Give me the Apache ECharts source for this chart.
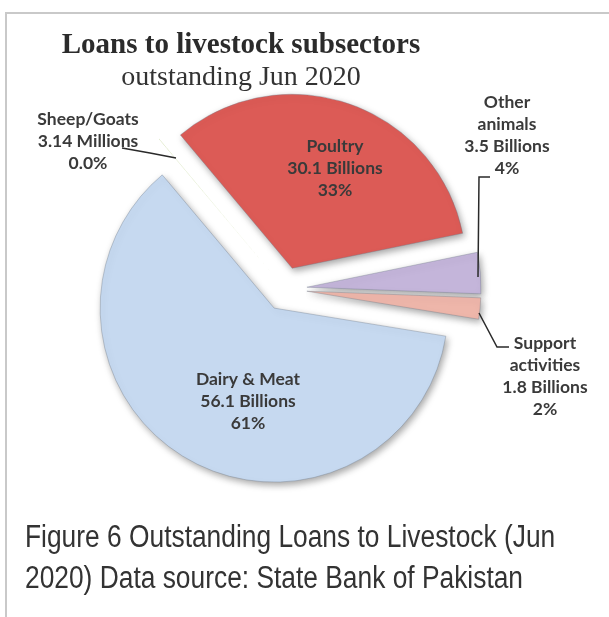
<!DOCTYPE html>
<html>
<head>
<meta charset="utf-8">
<title>Loans to livestock subsectors</title>
<script src="https://cdn.jsdelivr.net/npm/echarts@6/dist/echarts.min.js"></script>
<style>
  html, body { margin: 0; padding: 0; background: #fff; }
  #main { width: 609px; height: 617px; }
</style>
</head>
<body>
<div id="main"></div>
<script>
// loans outstanding, Jun 2020, in billions (pie runs clockwise from the upper left)
var categories = ['Poultry', 'Other animals', 'Support activities', 'Dairy & Meat', 'Sheep/Goats'];
var loans = [30.1, 3.5, 1.8, 56.1, 0.00314];

var colors = ['#dc5b56', '#c4b5da', '#eeb6aa', '#c6d9f0', '#9bbb59'];
// where each label sits (centre of the text block) and its leader line
var labelPos = [[335, 168], [507, 135], [545, 376], [248, 401], [88, 141]];
var leaderLines = [
  null,
  [[478, 277], [479, 177], [490, 177]],
  [[479, 313], [497, 347], [509, 347]],
  null,
  [[176, 158], [150, 153], [122, 148]]
];

var pieCenter = [285, 289];
var pieRadius = 174;
var pieStart = 130;

var chart = echarts.init(document.getElementById('main'));

function labelText(p) {
  var name = p.name;
  if (p.dataIndex === 1 || p.dataIndex === 2) {
    name = name.replace(' ', '\n');
  }
  var amount = p.value >= 1 ? p.value + ' Billions' : (p.value * 1000).toFixed(2) + ' Millions';
  var pct = p.percent < 1 ? p.percent.toFixed(1) : Math.round(p.percent);
  return name + '\n' + amount + '\n' + pct + '%';
}

var option = {
  backgroundColor: '#fff',
  animation: false,
  title: {
    text: 'Loans to livestock subsectors',
    subtext: 'outstanding Jun 2020',
    left: 236,
    top: 26,
    textAlign: 'center',
    itemGap: 4,
    textStyle: {
      fontFamily: 'Liberation Serif',
      fontWeight: 'bold',
      fontSize: 29,
      color: '#2b2b2b'
    },
    subtextStyle: {
      fontFamily: 'Liberation Serif',
      fontSize: 28,
      color: '#333'
    }
  },
  series: [
    // exploded slices
    {
      type: 'pie',
      center: pieCenter,
      radius: pieRadius,
      startAngle: pieStart,
      selectedMode: 'multiple',
      selectedOffset: 22,
      silent: true,
      data: categories.map(function (c, i) {
        var item = { name: c, value: loans[i], selected: true, itemStyle: { color: colors[i] } };
        if (loans[i] < 0.01) {
          item.itemStyle.borderWidth = 0;
          item.itemStyle.shadowBlur = 0;
          item.itemStyle.shadowOffsetX = 0;
          item.itemStyle.shadowOffsetY = 0;
        }
        return item;
      }),
      itemStyle: {
        borderColor: 'rgba(110,120,135,0.35)',
        borderWidth: 1,
        shadowBlur: 7,
        shadowOffsetX: 2,
        shadowOffsetY: 3,
        shadowColor: 'rgba(0,0,0,0.35)'
      },
      label: { show: false },
      labelLine: { show: false }
    },
    // same pie, unselected and invisible, only carries the labels
    {
      type: 'pie',
      z: 5,
      center: pieCenter,
      radius: pieRadius,
      startAngle: pieStart,
      silent: true,
      avoidLabelOverlap: false,
      minShowLabelAngle: 0,
      data: categories.map(function (c, i) {
        return {
          name: c,
          value: loans[i],
          labelLine: { show: leaderLines[i] !== null }
        };
      }),
      itemStyle: { color: 'rgba(0,0,0,0)' },
      label: {
        show: true,
        position: 'outside',
        formatter: labelText,
        fontFamily: 'Lato',
        fontWeight: 'bold',
        fontSize: 17.5,
        lineHeight: 22,
        color: '#3a3a3a',
        align: 'center'
      },
      labelLine: {
        lineStyle: { color: '#2a2a2a', width: 1.5 }
      },
      labelLayout: function (p) {
        var pos = labelPos[p.dataIndex];
        var res = { x: pos[0], y: pos[1], align: 'center', verticalAlign: 'middle' };
        if (leaderLines[p.dataIndex]) {
          res.labelLinePoints = leaderLines[p.dataIndex];
        }
        return res;
      }
    }
  ],
  graphic: [
    {
      type: 'polyline',
      shape: { points: [[6, 617], [6, 13], [609, 13]] },
      style: { stroke: '#c9c9c9', lineWidth: 2, fill: null },
      silent: true
    },
    {
      type: 'text',
      x: 25,
      y: 518,
      scaleX: 0.85,
      style: {
        text: 'Figure 6 Outstanding Loans to Livestock (Jun\n2020) Data source: State Bank of Pakistan',
        fontFamily: 'Liberation Sans',
        fontSize: 31,
        lineHeight: 41,
        fill: '#333'
      },
      silent: true
    }
  ]
};

chart.setOption(option);
</script>
</body>
</html>
